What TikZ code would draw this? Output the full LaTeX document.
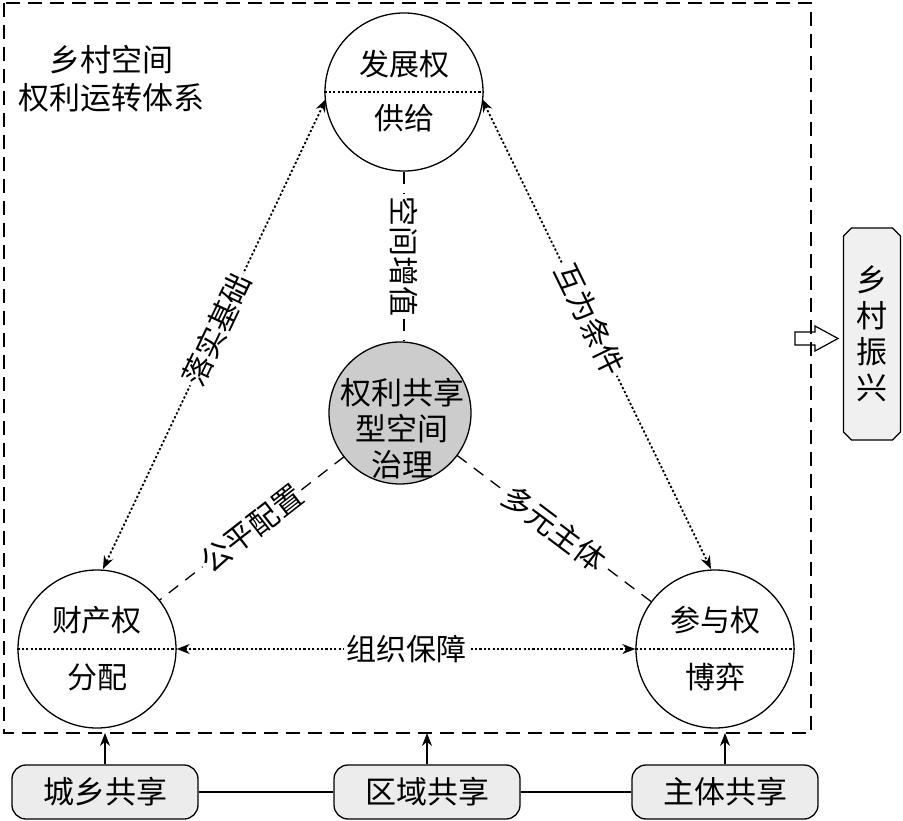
\documentclass[tikz,border=0pt]{standalone}
\usepackage{fontspec}
\setmainfont{Noto Sans CJK SC}
\usetikzlibrary{arrows.meta,shapes.misc}
\tikzset{
  rc/.style={circle, draw, line width=1.3pt, minimum size=158pt, inner sep=0pt},
  gc/.style={circle, draw, line width=1.3pt, fill=gray!40, minimum size=142pt, inner sep=0pt},
  txt/.style={inner sep=0pt, font=\fontsize{30}{36}\selectfont},
  lbl/.style={fill=white, inner sep=2pt, font=\fontsize{30}{34}\selectfont},
  dotdiam/.style={line width=1.5pt, dash pattern=on 2.2pt off 2.2pt},
  dotarr/.style={line width=1.8pt, dash pattern=on 2.2pt off 2.2pt, {Stealth[length=13pt,width=10pt]}-{Stealth[length=13pt,width=10pt]}},
  dashln/.style={line width=1.3pt, dash pattern=on 12pt off 9pt},
  share/.style={draw, line width=1.3pt, rounded corners=14pt, fill=gray!15, minimum width=186pt, minimum height=54pt, inner sep=0pt, font=\fontsize{31}{36}\selectfont},
  uparr/.style={line width=1.2pt, -{Stealth[length=13pt,width=10pt]}},
}
\begin{document}
\begin{tikzpicture}[x=1pt,y=-1pt]
\useasboundingbox (0,0) rectangle (903,821);
% outer dashed frame
\draw[line width=2.2pt, dash pattern=on 14pt off 8pt] (4,3) rectangle (811,733);
\node[txt, align=center, font=\fontsize{31}{38}\selectfont] (title) at (112,79) {乡村空间\\权利运转体系};

% circles
\node[rc] (T) at (404,92) {};
\node[rc] (L) at (97,649) {};
\node[rc] (R) at (715,649) {};
\node[gc] (C) at (400,413) {};
\draw[dotdiam] (T.west) -- (T.east);
\draw[dotdiam] (L.west) -- (L.east);
\draw[dotdiam] (R.west) -- (R.east);
\node[txt] (T1) at (404,64) {发展权};
\node[txt] (T2) at (404,118) {供给};
\node[txt] (L1) at (97,620) {财产权};
\node[txt] (L2) at (97,677) {分配};
\node[txt] (R1) at (715,620) {参与权};
\node[txt] (R2) at (715,677) {博弈};
\node[txt, align=center, font=\fontsize{31}{36}\selectfont] (C1) at (402,429) {权利共享\\型空间\\治理};

% dotted double arrows
\coordinate (Ta) at (326,99);
\coordinate (Tb) at (482,99);
\coordinate (La) at (103,569);
\coordinate (Rb) at (711,569);
\draw[dotarr] (Ta) -- (La) node[lbl, pos=0.49, sloped] (lab1) {落实基础};
\draw[dotarr] (Tb) -- (Rb) node[lbl, pos=0.47, sloped] (lab2) {互为条件};
\draw[dotarr] (L.east) -- (R.west) node[lbl, midway] (lab3) {组织保障};

% dashed links to centre
\draw[dashln] (T.south) -- (T.south |- C.north) node[lbl, midway, rotate=-90] (lab4) {空间增值};
\path (C) ++(142:71) coordinate (Cl) (L) ++(-38:79) coordinate (Lc);
\draw[dashln] (Cl) -- (Lc) node[lbl, midway, sloped] (lab5) {公平配置};
\path (C) ++(36.6:71) coordinate (Cr) (R) ++(-143.4:79) coordinate (Rc);
\draw[dashln] (Cr) -- (Rc) node[lbl, midway, sloped] (lab6) {多元主体};

% right box and arrow
\node[draw, line width=1.3pt, chamfered rectangle, chamfered rectangle xsep=4pt, chamfered rectangle ysep=4pt, fill=gray!12, minimum width=57pt, minimum height=212pt, inner sep=0pt, align=center, font=\fontsize{31}{36}\selectfont] (RV) at (872,334) {乡\\村\\振\\兴};
\draw[line width=1.2pt, line join=miter] (795,332) -- (815,332) -- (815,326) -- (838,338.5) -- (815,351) -- (815,345) -- (795,345) -- cycle;

% bottom boxes
\node[share] (S1) at (105,792) {城乡共享};
\node[share] (S2) at (427,792) {区域共享};
\node[share] (S3) at (725,792) {主体共享};
\draw[line width=1.2pt] (S1.east) -- (S2.west);
\draw[line width=1.2pt] (S2.east) -- (S3.west);
\coordinate (B1) at (105,733);
\coordinate (B2) at (427,733);
\coordinate (B3) at (725,733);
\draw[uparr] (S1.north) -- (B1);
\draw[uparr] (S2.north) -- (B2);
\draw[uparr] (S3.north) -- (B3);
\end{tikzpicture}
\end{document}
